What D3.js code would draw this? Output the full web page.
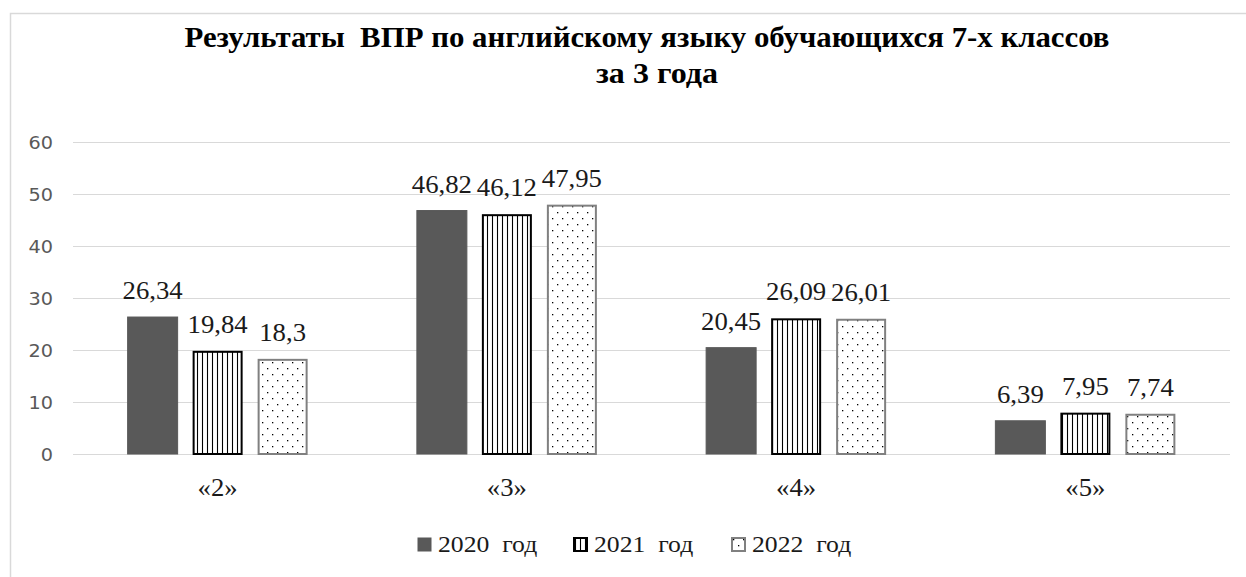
<!DOCTYPE html>
<html><head><meta charset="utf-8">
<script src="https://cdn.jsdelivr.net/npm/d3@7"></script>
<style>
body{margin:0;background:#fff;}svg{display:block;}
.serif{font-family:"Liberation Serif","Times New Roman",serif;}
.sans{font-family:"DejaVu Sans","Open Sans",sans-serif;}
</style>
</head><body>
<svg id="c" width="1246" height="577"></svg>
<script>
const categories = ["«2»", "«3»", "«4»", "«5»"];
const seriesNames = ["2020  год", "2021  год", "2022  год"];
const values2020 = [26.34, 46.82, 20.45, 6.39];
const values2021 = [19.84, 46.12, 26.09, 7.95];
const values2022 = [18.3, 47.95, 26.01, 7.74];
const valueLabels2020 = ["26,34", "46,82", "20,45", "6,39"];
const valueLabels2021 = ["19,84", "46,12", "26,09", "7,95"];
const valueLabels2022 = ["18,3", "47,95", "26,01", "7,74"];
const yTicks = [0, 10, 20, 30, 40, 50, 60];
const titleLines = ["Результаты  ВПР по английскому языку обучающихся 7-х классов", "за 3 года"];

const series = [
  {name: seriesNames[0], values: values2020, labels: valueLabels2020},
  {name: seriesNames[1], values: values2021, labels: valueLabels2021},
  {name: seriesNames[2], values: values2022, labels: valueLabels2022}
];

const SX = 1.07;

const svg = d3.select("#c");
const defs = svg.append("defs");
const pv = defs.append("pattern").attr("id","vlines").attr("patternUnits","userSpaceOnUse")
  .attr("width",5).attr("height",10);
pv.append("rect").attr("width",5).attr("height",10).attr("fill","#fff");
pv.append("line").attr("x1",2.5).attr("x2",2.5).attr("y1",0).attr("y2",10).attr("stroke","#000").attr("stroke-width",1.1);
const pd = defs.append("pattern").attr("id","dots").attr("patternUnits","userSpaceOnUse")
  .attr("width",10).attr("height",12);
pd.append("rect").attr("width",10).attr("height",12).attr("fill","#fff");
pd.append("rect").attr("x",2).attr("y",2).attr("width",1.3).attr("height",1.3).attr("fill","#000");
pd.append("rect").attr("x",7).attr("y",8).attr("width",1.3).attr("height",1.3).attr("fill","#000");

const styles = [
  {fill:"#595959", stroke:"#595959", sw:1},
  {fill:"url(#vlines)", stroke:"#000", sw:2},
  {fill:"url(#dots)", stroke:"#808080", sw:2}
];

svg.append("rect").attr("x",10.5).attr("y",13.5).attr("width",1300).attr("height",700)
  .attr("fill","none").attr("stroke","#d9d9d9").attr("stroke-width",1.5);

const plotL = 73, plotR = 1230, plotT = 142, plotB = 454;
const x0 = d3.scaleBand().domain(categories).range([plotL, plotR]).padding(0);
const groupW = 180;
const x1 = d3.scaleBand().domain(seriesNames)
  .range([x0.bandwidth()/2 - groupW/2, x0.bandwidth()/2 + groupW/2]).paddingInner(15/65).paddingOuter(0);
const y = d3.scaleLinear().domain([0,60]).range([plotB, plotT]);

svg.append("g").selectAll("line").data(yTicks).join("line")
  .attr("x1",plotL).attr("x2",plotR)
  .attr("y1",d=>Math.round(y(d))+0.5).attr("y2",d=>Math.round(y(d))+0.5)
  .attr("stroke","#d9d9d9").attr("stroke-width",1);

const yAxis = d3.axisLeft(y).tickValues(yTicks).tickSize(0).tickPadding(0);
const gy = svg.append("g").attr("transform",`translate(53,0)`).call(yAxis);
gy.select(".domain").remove();
gy.attr("font-family",null);
gy.selectAll("text").attr("class","sans")
  .style("font-size","18px").attr("fill","#595959").attr("dy","0.36em")
  .attr("transform",`scale(${SX},1)`);

svg.append("g").selectAll("text").data(titleLines).join("text")
  .attr("class","serif")
  .attr("x",(d,i)=> i===0 ? 647 : 657).attr("y",(d,i)=> i===0 ? 47 : 83)
  .attr("text-anchor","middle").style("white-space","pre")
  .style("font-weight","bold").style("font-size","30px").attr("fill","#000")
  .attr("textLength",(d,i)=> i===0 ? 925 : 122).attr("lengthAdjust","spacingAndGlyphs")
  .text(d=>d);

const groups = svg.append("g").selectAll("g").data(series).join("g");
groups.each(function(s, si){
  const g = d3.select(this);
  const st = styles[si];
  g.selectAll("rect").data(s.values).join("rect")
    .attr("x",(d,i)=> x0(categories[i]) + x1(s.name) + (st.sw>1?1:0))
    .attr("y",d=> y(d) + (st.sw>1?1:0))
    .attr("width", x1.bandwidth() - (st.sw>1?2:0))
    .attr("height",d=> y(0) - y(d) - (st.sw>1?1:0))
    .attr("fill",st.fill).attr("stroke",st.stroke).attr("stroke-width",st.sw);
  g.selectAll("text").data(s.values).join("text")
    .attr("class","serif")
    .attr("transform",(d,i)=>`translate(${x0(categories[i]) + x1(s.name) + x1.bandwidth()/2},${y(d) - 18}) scale(${SX},1)`)
    .attr("text-anchor","middle")
    .style("font-size","25px").attr("fill","#1a1a1a")
    .text((d,i)=> s.labels[i]);
});

const xAxis = d3.axisBottom(x0).tickSize(0).tickPadding(0);
const gx = svg.append("g").attr("transform",`translate(0,478)`).call(xAxis);
gx.select(".domain").remove();
gx.attr("font-family",null);
gx.selectAll("text").attr("class","serif")
  .style("font-size","25px").attr("fill","#1a1a1a").attr("transform",`scale(${SX},1)`);

const legendX = [417, 573, 731];
const lg = svg.append("g").selectAll("g").data(series).join("g")
  .attr("transform",(d,i)=>`translate(${legendX[i]},537)`);
lg.append("rect").attr("x",1).attr("y",1).attr("width",13).attr("height",13)
  .attr("fill",(d,i)=> styles[i].fill)
  .attr("stroke",(d,i)=>styles[i].stroke).attr("stroke-width",(d,i)=> i===0?1:2);
lg.append("text").attr("class","serif").attr("transform",`translate(21,15) scale(${SX},1)`)
  .style("white-space","pre")
  .style("font-size","24px").attr("fill","#1a1a1a").text(d=>d.name);
</script>
</body></html>
